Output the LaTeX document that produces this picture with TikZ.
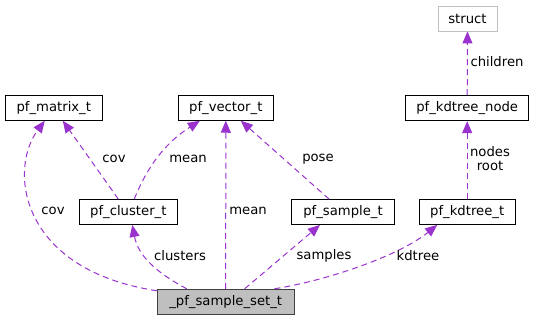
\documentclass[tikz,border=0pt]{standalone}
\usepackage{fontspec}
\setmainfont{DejaVu Sans}
\usetikzlibrary{arrows.meta}
\definecolor{edgecol}{HTML}{9A32CD}
\definecolor{ssfill}{HTML}{BFBFBF}
\definecolor{ssborder}{HTML}{404040}
\definecolor{stborder}{HTML}{BFBFBF}
\begin{document}
\begin{tikzpicture}[x=1pt,y=-1pt,
  box/.style={draw=black,line width=0.9pt,fill=white,minimum height=25pt,inner sep=0pt,font=\fontsize{13.2}{15}\selectfont},
  lbl/.style={font=\fontsize{13.2}{14}\selectfont,inner sep=0pt,align=center},
  edge/.style={draw=edgecol,line width=1pt,dash pattern=on 6pt off 4pt,-{Triangle[length=12pt,width=10pt]},fill=none}]
\useasboundingbox (0,0) rectangle (534,320);
\node[box,draw=stborder,minimum width=59pt] (st) at (467.5,18.5) {struct};
\node[box,minimum width=123pt] (kn) at (467.2,108.2) {pf\_kdtree\_node};
\node[box,minimum width=97.7pt] (mat) at (53.8,107.8) {pf\_matrix\_t};
\node[box,minimum width=95pt] (vec) at (225.8,107.8) {pf\_vector\_t};
\node[box,minimum width=98.7pt] (cl) at (128.3,212) {pf\_cluster\_t};
\node[box,minimum width=103pt] (sp) at (343,212) {pf\_sample\_t};
\node[box,minimum width=96pt] (kd) at (467.2,212) {pf\_kdtree\_t};
\node[box,draw=ssborder,fill=ssfill,minimum width=136.7pt] (ss) at (225.7,301.7) {\_pf\_sample\_set\_t};

% edges
\draw[edge] ([yshift=-2pt]ss.north west) .. controls (20,270) and (8,170) .. ([xshift=-9pt]mat.south);
\draw[edge] ([xshift=-10pt]cl.north) -- ([xshift=9pt]mat.south);
\draw[edge] ([xshift=6pt]cl.north) .. controls (150,160) and (170,140) .. ([xshift=-26pt]vec.south);
\draw[edge] (ss.north) -- (vec.south);
\draw[edge] ([xshift=-14pt]sp.north) -- ([xshift=15pt]vec.south);
\draw[edge] ([xshift=-39pt]ss.north) .. controls (155,272) and (138,255) .. ([xshift=4pt]cl.south);
\draw[edge] ([xshift=19pt]ss.north) -- ([xshift=-23pt]sp.south);
\draw[edge] ([xshift=-20pt]ss.north east) .. controls (330,280) and (400,255) .. ([xshift=-30pt]kd.south);
\draw[edge] (kd.north) -- (kn.south);
\draw[edge] (kn.north) -- (st.south);

% labels
\node[lbl] (l1) at (53,211) {cov};
\node[lbl] (l2) at (114,159) {cov};
\node[lbl] (l3) at (188,159) {mean};
\node[lbl] (l4) at (248,211) {mean};
\node[lbl] (l5) at (318,159) {pose};
\node[lbl] (l6) at (180,256) {clusters};
\node[lbl] (l7) at (324,256) {samples};
\node[lbl] (l8) at (418,256) {kdtree};
\node[lbl] (l9) at (490,159) {nodes\\root};
\node[lbl] (l10) at (497,62) {children};
\end{tikzpicture}
\end{document}
